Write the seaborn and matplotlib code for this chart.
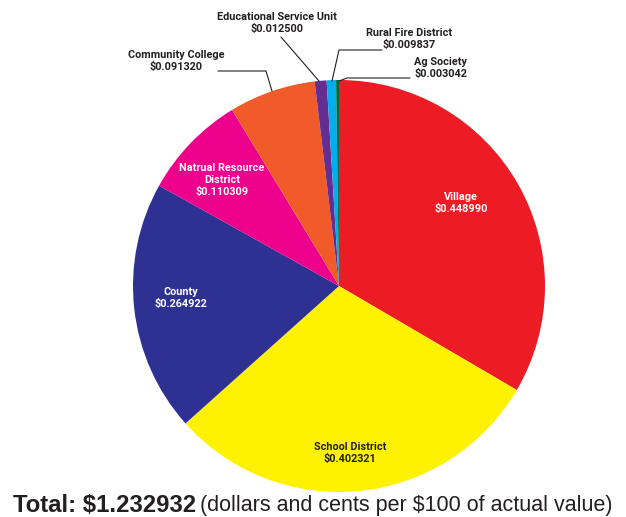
import matplotlib
matplotlib.use("Agg")
import matplotlib.pyplot as plt
import seaborn as sns

sns.set_theme(style="white")
plt.rcParams['font.family'] = ['Roboto', 'DejaVu Sans']

# ---- data ----
categories = ["Village", "School District", "County", "Natrual Resource\nDistrict",
              "Community College", "Educational Service Unit", "Rural Fire District", "Ag Society"]
values = [0.448990, 0.402321, 0.264922, 0.110309, 0.091320, 0.012500, 0.009837, 0.003042]
value_labels = ["$0.448990", "$0.402321", "$0.264922", "$0.110309",
                "$0.091320", "$0.012500", "$0.009837", "$0.003042"]
total_label = "Total: $1.232932"
note_label = "(dollars and cents per $100 of actual value)"

colors = ["#ED1C24", "#FFF200", "#2E3192", "#EC008C",
          "#F15A29", "#662D91", "#00AEEF", "#00693E"]

W, H = 626, 517
fig = plt.figure(figsize=(W / 100, H / 100), dpi=100)
ax = fig.add_axes([0, 0, 1, 1])

cx, cy, r = 339, H - 286, 206
ax.pie(values, colors=colors, startangle=90, counterclock=False,
       center=(cx, cy), radius=r, wedgeprops=dict(linewidth=0))
ax.set_xlim(0, W)
ax.set_ylim(0, H)
ax.set_aspect("equal")
ax.axis("off")

dark = "#231F20"
fs = 7.8
# inside labels (x px, y px, color)
inside = {0: (461, 203, "white"), 1: (350, 453, dark), 2: (181, 298, "white"),
          3: (222, 180, "white")}
for i, (x, y, c) in inside.items():
    ax.text(x, H - y, categories[i] + "\n" + value_labels[i], ha="center", va="center",
            color=c, fontsize=fs, fontweight="bold", linespacing=1.2)

# outside labels
outside = {4: (176, 61), 5: (277, 23), 6: (409, 39), 7: (441, 68)}
for i, (x, y) in outside.items():
    ax.text(x, H - y, categories[i] + "\n" + value_labels[i], ha="center", va="center",
            color=dark, fontsize=fs, fontweight="bold", linespacing=1.2)

# leader lines (pixel coords)
leaders = [
    [(218, 71), (266, 71), (272, 91)],
    [(281, 37), (319, 81)],
    [(382, 50), (339, 50), (332, 81)],
    [(410, 78), (347, 78), (339, 81)],
]
for pts in leaders:
    xs = [p[0] for p in pts]
    ys = [H - p[1] for p in pts]
    ax.plot(xs, ys, color=dark, lw=0.8)

fig.text(13 / W, 1 - 505 / H, total_label, ha="left", va="center",
         fontsize=17.2, fontweight="bold", color=dark, family=["Liberation Sans", "DejaVu Sans"])
fig.text(612 / W, 1 - 505 / H, note_label, ha="right", va="center",
         fontsize=15.5, color=dark, family=["Liberation Sans", "DejaVu Sans"])

fig.savefig("out.png", dpi=100)
